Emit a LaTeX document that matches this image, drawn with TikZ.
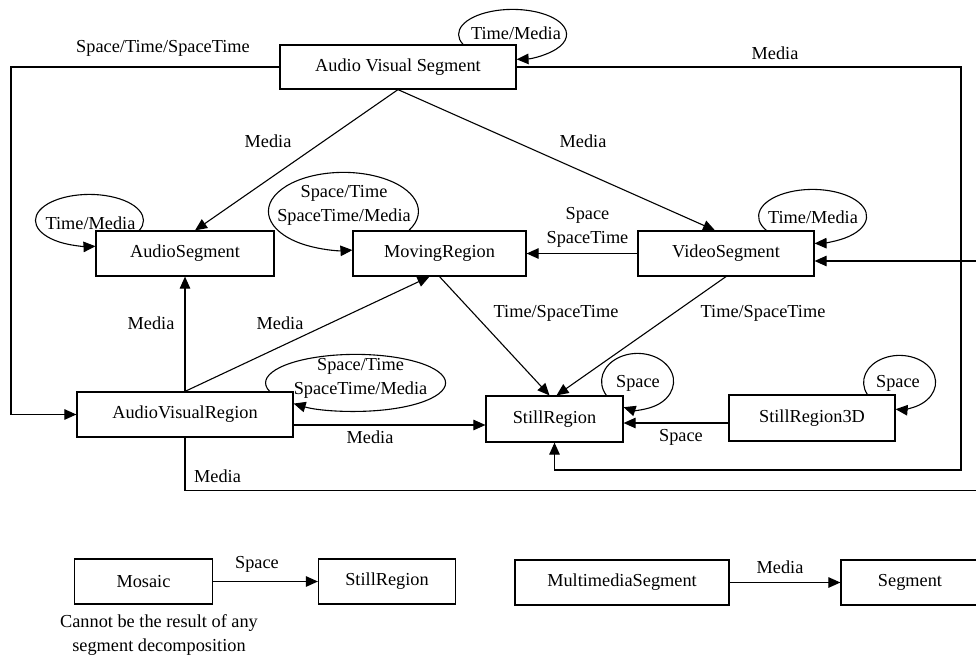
\documentclass[tikz,border=0pt]{standalone}
\usepackage{fontspec}
\setmainfont{Liberation Serif}
\usetikzlibrary{arrows.meta,calc}
\begin{document}
\begin{tikzpicture}[x=1pt,y=-1pt,
  font=\fontsize{18.3}{24}\selectfont,
  box/.style={draw, line width=1.2pt, inner sep=0pt, minimum height=45pt},
  link/.style={line width=1.1pt},
  arr/.style={link, -{Triangle[length=12pt,width=10.5pt]}},
  lbl/.style={inner sep=0pt, align=center}]
\clip (0,0) rectangle (976,658);
\fill[white] (0,0) rectangle (976,658);

% segment types
\node[box, minimum width=236pt, minimum height=44pt] (avs) at (398,67) {Audio Visual Segment};
\node[box, minimum width=178pt] (aseg) at (185,253.5) {AudioSegment};
\node[box, minimum width=173pt] (mreg) at (439.5,253.5) {MovingRegion};
\node[box, minimum width=176pt] (vseg) at (726,253.5) {VideoSegment};
\node[box, minimum width=216pt] (avr) at (185,414.5) {AudioVisualRegion};
\node[box, minimum width=137pt, minimum height=46pt] (sreg) at (554.5,419) {StillRegion};
\node[box, minimum width=166pt, minimum height=46pt] (sr3d) at (812,418) {StillRegion3D};
\node[box, minimum width=138pt] (mosaic) at (143.5,581.5) {Mosaic};
\node[box, minimum width=137pt] (sreg2) at (387,581.5) {StillRegion};
\node[box, minimum width=214pt] (mms) at (622,582.5) {MultimediaSegment};
\node[box, minimum width=138pt] (seg) at (910,582.5) {Segment};

% routing points
\coordinate (cl) at (11,67);
\coordinate (cr) at (961,470);
\coordinate (er) at (976,261);
\coordinate (eb) at (976,490.5);
\coordinate (q1) at ($(avr.east)+(0,10.5)$);
\coordinate (q2) at ($(sr3d.west)+(0,5)$);

% decompositions
\draw[arr] (avs.south) -- ($(aseg.north)+(10,0)$);
\draw[arr] (avs.south) -- ($(vseg.north)+(-11,0)$);
\draw[arr] (avs.west) -- (cl) |- (avr.west);
\draw[arr] (avs.east) -| (cr) -| (sreg.south);
\draw[arr] (er) -- (er -| vseg.east);
\draw[link] (avr.south) |- (eb);
\draw[arr] (avr.north) -- (aseg.south);
\draw[arr] (avr.north) -- ($(mreg.south)+(-10,0)$);
\draw[arr] (q1) -- (q1 -| sreg.west);
\draw[arr] (mreg.south) -- ($(sreg.north)+(-5,0)$);
\draw[arr] (vseg.south) -- ($(sreg.north)+(2,0)$);
\draw[arr] (vseg.west) -- (mreg.east);
\draw[arr] (q2) -- (q2 -| sreg.east);
\draw[arr] (mosaic.east) -- (sreg2.west);
\draw[arr] (mms.east) -- (seg.west);

% self decompositions
\draw[arr] ($(avs.north east)+(-53.5,0)$) arc[start angle=203.6, end angle=-85.75, x radius=54pt, y radius=25pt];
\draw[arr] ($(aseg.north west)+(43.9,0)$) arc[start angle=-22.6, end angle=276.4, x radius=54pt, y radius=26pt];
\draw[arr] ($(mreg.north west)+(56.5,0)$) arc[start angle=-29.2, end angle=276.9, x radius=75pt, y radius=39pt];
\draw[arr] ($(vseg.north east)+(-48.2,0)$) arc[start angle=211.2, end angle=-87.9, x radius=54pt, y radius=27pt];
\draw[arr] ($(avr.north east)+(-23.9,0)$) arc[start angle=197.4, end angle=-133.5, x radius=90pt, y radius=28.5pt];
\draw[arr] ($(sreg.north east)+(-17.2,0)$) arc[start angle=210, end angle=-112.9, x radius=36pt, y radius=28pt];
\draw[arr] ($(sr3d.north east)+(-28.25,0)$) arc[start angle=206.4, end angle=-96.4, x radius=36pt, y radius=27pt];

% labels
\node[lbl] (l1) at (163,48) {Space/Time/SpaceTime};
\node[lbl] (l2) at (516,33) {Time/Media};
\node[lbl] (l3) at (775,53) {Media};
\node[lbl] (l4) at (268,141) {Media};
\node[lbl] (l5) at (583,141) {Media};
\node[lbl] (l6) at (90.5,223) {Time/Media};
\node[lbl] (l7) at (344,205) {Space/Time\\SpaceTime/Media};
\node[lbl] (l8) at (587.5,227.5) {Space\\SpaceTime};
\node[lbl] (l9) at (813,217) {Time/Media};
\node[lbl] (l10) at (151,323) {Media};
\node[lbl] (l11) at (280,323) {Media};
\node[lbl] (l12) at (556,313) {Time/SpaceTime};
\node[lbl] (l13) at (763,313) {Time/SpaceTime};
\node[lbl] (l14) at (360.5,378) {Space/Time\\SpaceTime/Media};
\node[lbl] (l15) at (370,437) {Media};
\node[lbl] (l16) at (217.5,476) {Media};
\node[lbl] (l17) at (638,383) {Space};
\node[lbl] (l18) at (898,383) {Space};
\node[lbl] (l19) at (681,437) {Space};
\node[lbl] (l20) at (257,564) {Space};
\node[lbl] (l21) at (780,567) {Media};
\node[lbl] (l22) at (159,635.5) {Cannot be the result of any\\segment decomposition};
\end{tikzpicture}
\end{document}
